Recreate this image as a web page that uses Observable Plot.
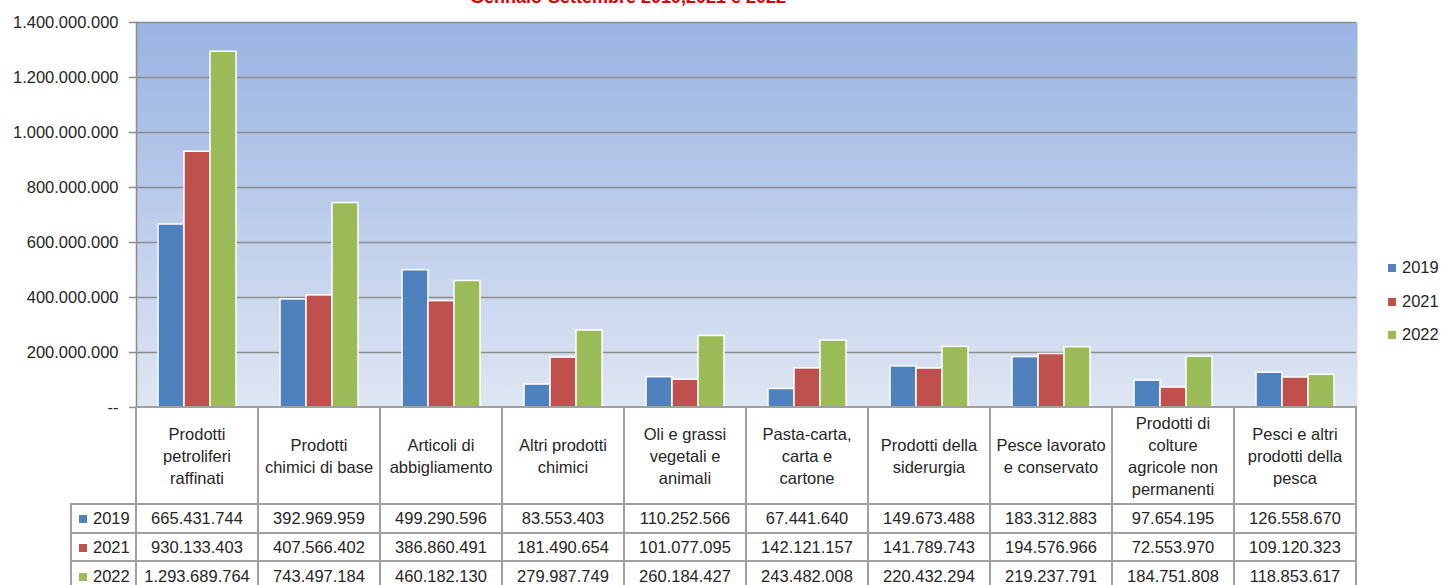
<!DOCTYPE html>
<html>
<head>
<meta charset="utf-8">
<script src="https://cdn.jsdelivr.net/npm/d3@7"></script>
<script src="https://cdn.jsdelivr.net/npm/@observablehq/plot@0.6"></script>
<style>
  html, body { margin: 0; padding: 0; background: #fff; overflow: hidden; }
  #wrap { position: relative; width: 1441px; height: 585px; font-family: "Liberation Sans", Arial, sans-serif; color: #262626; }
  #title { position: absolute; top: -12px; left: 428px; width: 400px; text-align: center; font-size: 18px; line-height: 18px; font-weight: bold; color: #dd0000; white-space: nowrap; }
  #chart { position: absolute; left: 0; top: 0; }
  table.dt { position: absolute; border-collapse: collapse; table-layout: fixed; font-size: 16.5px; color: #262626; }
  table.dt td { border: 2px solid #a0a0a0; padding: 0; text-align: center; vertical-align: middle; white-space: pre-line; line-height: 22px; overflow: hidden; background: #fff; }
  table.dt td.corner { border-top: none; border-left: none; border-bottom: none; background: transparent; }
  table.dt td.lab { text-align: left; padding-left: 7px; white-space: nowrap; }
  .sw { display: inline-block; width: 8px; height: 8px; margin-right: 6px; vertical-align: 1px; }
  #legend { position: absolute; left: 1388px; top: 255px; font-size: 16.5px; color: #262626; }
  #legend div { height: 33.5px; line-height: 24px; white-space: nowrap; }
  #legend .sw { margin-right: 6px; }
</style>
</head>
<body>
<div id="wrap">
  <div id="title">Gennaio-Settembre 2019,2021 e 2022</div>
  <div id="chart"></div>
  <div id="legend"></div>
</div>
<script>
// ---- data ----
const categories = [
  "Prodotti\npetroliferi\nraffinati",
  "Prodotti\nchimici di base",
  "Articoli di\nabbigliamento",
  "Altri prodotti\nchimici",
  "Oli e grassi\nvegetali e\nanimali",
  "Pasta-carta,\ncarta e\ncartone",
  "Prodotti della\nsiderurgia",
  "Pesce lavorato\ne conservato",
  "Prodotti di\ncolture\nagricole non\npermanenti",
  "Pesci e altri\nprodotti della\npesca"
];
const years = ["2019", "2021", "2022"];
const v2019 = [665431744, 392969959, 499290596, 83553403, 110252566, 67441640, 149673488, 183312883, 97654195, 126558670];
const v2021 = [930133403, 407566402, 386860491, 181490654, 101077095, 142121157, 141789743, 194576966, 72553970, 109120323];
const v2022 = [1293689764, 743497184, 460182130, 279987749, 260184427, 243482008, 220432294, 219237791, 184751808, 118853617];
const yTicks = [0, 200000000, 400000000, 600000000, 800000000, 1000000000, 1200000000, 1400000000];
const colors = ["#4f81bd", "#c0504d", "#9bbb59"];

const series = [v2019, v2021, v2022];
const rows = [];
categories.forEach((c, i) => years.forEach((y, j) => rows.push({category: c, year: y, value: series[j][i]})));

const it = d3.formatLocale({decimal: ",", thousands: ".", grouping: [3], currency: ["€", ""]});
const fmt = it.format(",d");

const W = 1441, ML = 135, MR = 84, MT = 22, MB = 13, H = 420;
const plotBottom = H - MB; // 407

const chart = Plot.plot({
  width: W, height: H,
  marginLeft: ML, marginRight: MR, marginTop: MT, marginBottom: MB,
  style: {fontFamily: "'Liberation Sans', Arial, sans-serif", fontSize: "16px", color: "#262626", background: "transparent"},
  fx: {domain: categories, padding: 0, axis: null},
  x: {domain: years, paddingInner: 0, paddingOuter: 0.76, axis: null},
  y: {domain: [0, 1400000000], axis: null},
  color: {domain: years, range: colors},
  marks: [
    Plot.frame({fill: "url(#bgGrad)", stroke: "none", insetRight: -1}),
    Plot.ruleY(yTicks.filter(d => d > 0), {stroke: "#8c8c8c", strokeWidth: 1.5}),
    Plot.frame({anchor: "left", facetAnchor: "left", stroke: "#8c8c8c", strokeWidth: 1.5}),
    Plot.axisY({ticks: yTicks, tickSize: 7, tickPadding: 11, tickFormat: d => d === 0 ? "--" : fmt(d),
      stroke: "#8c8c8c", strokeWidth: 1.5, fill: "#262626", fontSize: 16.5, label: null}),
    Plot.barY(rows, {fx: "category", x: "year", y: "value", fill: "year", stroke: "white", strokeWidth: 1.5})
  ]
});

// gradient background for plot area
const ns = "http://www.w3.org/2000/svg";
const defs = document.createElementNS(ns, "defs");
defs.innerHTML = `<linearGradient id="bgGrad" x1="0" y1="0" x2="0" y2="1">
  <stop offset="0" stop-color="#99b3e2"/><stop offset="1" stop-color="#dfe6f3"/></linearGradient>`;
chart.insertBefore(defs, chart.firstChild);
document.getElementById("chart").appendChild(chart);

// data table below the plot, aligned with the fx scale
const fxs = chart.scale("fx");
const step = fxs.bandwidth || (W - ML - MR) / categories.length;
const labW = 65;
const table = document.createElement("table");
table.className = "dt";
table.style.left = (ML - labW) + "px";
table.style.top = (plotBottom - 1) + "px";
table.style.width = (labW + step * categories.length) + "px";
let html = `<colgroup><col style="width:${labW}px">` + categories.map(() => `<col style="width:${step}px">`).join("") + `</colgroup>`;
html += `<tr style="height:97px"><td class="corner"></td>` + categories.map(c => `<td>${c}</td>`).join("") + `</tr>`;
years.forEach((y, j) => {
  html += `<tr style="height:28.7px"><td class="lab"><span class="sw" style="background:${colors[j]}"></span>${y}</td>` +
    series[j].map(v => `<td>${fmt(v)}</td>`).join("") + `</tr>`;
});
table.innerHTML = html;
document.getElementById("wrap").appendChild(table);

// legend on the right
const leg = document.getElementById("legend");
years.forEach((y, j) => {
  const d = document.createElement("div");
  d.innerHTML = `<span class="sw" style="background:${colors[j]}"></span>${y}`;
  leg.appendChild(d);
});
</script>
</body>
</html>
